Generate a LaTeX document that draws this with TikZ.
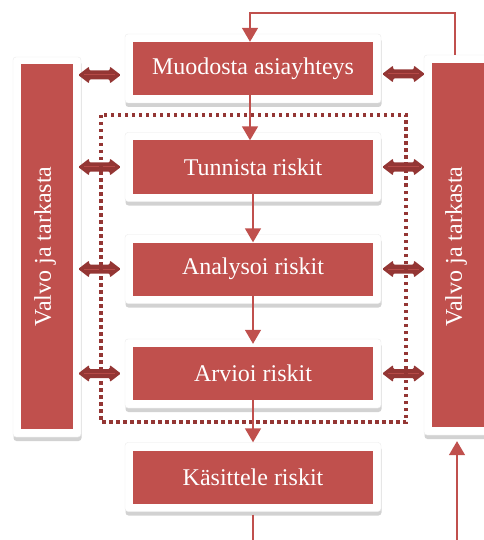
\documentclass[tikz,border=0pt]{standalone}
\usepackage{fontspec}
\setmainfont{Liberation Serif}
\usetikzlibrary{arrows.meta,shadows,calc}
\definecolor{boxred}{HTML}{C0504D}
\definecolor{darkred}{HTML}{943634}
\begin{document}
\begin{tikzpicture}[x=1pt,y=-1pt,
  outerbox/.style={fill=white, rounded corners=3pt, inner sep=0pt, draw=black!8, line width=0.4pt,
    drop shadow={shadow xshift=0.5pt, shadow yshift=-4pt, opacity=0.25, fill=black!70}},
  innerbox/.style={fill=boxred, inner sep=0pt, text=white, font=\fontsize{24}{28}\selectfont},
  step box/.style={innerbox, minimum width=240pt, minimum height=53pt},
  step frame/.style={outerbox, minimum width=256pt, minimum height=69pt},
  conn/.style={draw=boxred, line width=1.5pt, -{Triangle[length=14pt,width=16pt]}},
  plainconn/.style={draw=boxred, line width=1.5pt},
  dblshape/.style={fill=darkred, rounded corners=1.2pt, to path={
    let \p1=(\tikztostart), \p2=(\tikztotarget) in
    -- (\x1+11pt,\y1+8.5pt) -- (\x1+11pt,\y1+4.5pt) -- (\x2-11pt,\y1+4.5pt) -- (\x2-11pt,\y1+8.5pt)
    -- (\x2,\y1) -- (\x2-11pt,\y1-8.5pt) -- (\x2-11pt,\y1-4.5pt) -- (\x1+11pt,\y1-4.5pt)
    -- (\x1+11pt,\y1-8.5pt) -- cycle}},
  dblline/.style={draw=boxred!75!darkred, line width=1pt, shorten <=6pt, shorten >=6pt},
  dotborder/.style={draw=darkred, line width=3.5pt, dash pattern=on 3.5pt off 3.5pt}
]
\useasboundingbox (0,0) rectangle (483,540);
% frames
\node[step frame] (m1o) at (253,68.5) {};
\node[step frame] (m2o) at (253,167) {};
\node[step frame] (m3o) at (253,269) {};
\node[step frame] (m4o) at (253,373.5) {};
\node[step frame] (m5o) at (253,477) {};
\node[outerbox, minimum width=68pt, minimum height=380pt] (Lo) at (47,247) {};
\node[outerbox, minimum width=68pt, minimum height=380pt] (Ro) at (458,245) {};
% red boxes
\node[step box] (m1) at (253,68.5) {Muodosta asiayhteys};
\node[step box] (m2) at (253,167) {Tunnista riskit};
\node[step box] (m3) at (253,269) {Analysoi riskit};
\node[step box] (m4) at (253,373.5) {Arvioi riskit};
\node[step box] (m5) at (253,477) {Käsittele riskit};
\node[innerbox, minimum width=52pt, minimum height=365pt] (L) at (47,246.5) {};
\node[innerbox, minimum width=52pt, minimum height=364pt] (R) at (458,245) {};
\node[innerbox, rotate=90] (Lt) at (45,246.5) {Valvo ja tarkasta};
\node[innerbox, rotate=90] (Rt) at (456,246.5) {Valvo ja tarkasta};
% double arrows
\coordinate (l1a) at ($(Lo.east |- 0,75)+(-3,0)$);  \coordinate (l1b) at ($(m1o.west |- 0,75)+(-4,0)$);
\coordinate (r1a) at ($(m1o.east |- 0,74)+(1,0)$);  \coordinate (r1b) at ($(Ro.west |- 0,74)+(1,0)$);
\coordinate (l2a) at ($(Lo.east |- m2)+(-3,0)$);    \coordinate (l2b) at ($(m2o.west |- m2)+(-4,0)$);
\coordinate (r2a) at ($(m2o.east |- m2)+(1,0)$);    \coordinate (r2b) at ($(Ro.west |- m2)+(1,0)$);
\coordinate (l3a) at ($(Lo.east |- m3)+(-3,0)$);    \coordinate (l3b) at ($(m3o.west |- m3)+(-4,0)$);
\coordinate (r3a) at ($(m3o.east |- m3)+(1,0)$);    \coordinate (r3b) at ($(Ro.west |- m3)+(1,0)$);
\coordinate (l4a) at ($(Lo.east |- m4)+(-3,0)$);    \coordinate (l4b) at ($(m4o.west |- m4)+(-4,0)$);
\coordinate (r4a) at ($(m4o.east |- m4)+(1,0)$);    \coordinate (r4b) at ($(Ro.west |- m4)+(1,0)$);
\foreach \a/\b in {l1a/l1b, r1a/r1b, l2a/l2b, r2a/r2b, l3a/l3b, r3a/r3b, l4a/l4b, r4a/r4b}{
  \fill[dblshape] (\a) to (\b);
  \draw[dblline] (\a) -- (\b);
}
% dotted region
\draw[dotborder] (101,115) rectangle (406,422);
% connectors
\coordinate (fbtop) at (455,13);
\draw[conn] (Ro.north -| fbtop) -- (fbtop) -| (m1.north -| 250,0);
\draw[conn] (m1.south -| 250,0) -- (m2.north -| 250,0);
\draw[conn] (m2) ++(0,26) -- (m3.north);
\draw[conn, shorten >=3pt] (m3) ++(0,26) -- (m4.north);
\draw[conn, shorten >=8pt] (m4) ++(0,26.5) -- (m5.north);
\coordinate (outend) at (253,545);
\draw[plainconn] ($(m5o.south)+(0,3)$) -- (outend);
\coordinate (instart) at (457,545);
\draw[conn] (instart) -- ($(Ro.south -| instart)+(0,6)$);
\end{tikzpicture}
\end{document}
